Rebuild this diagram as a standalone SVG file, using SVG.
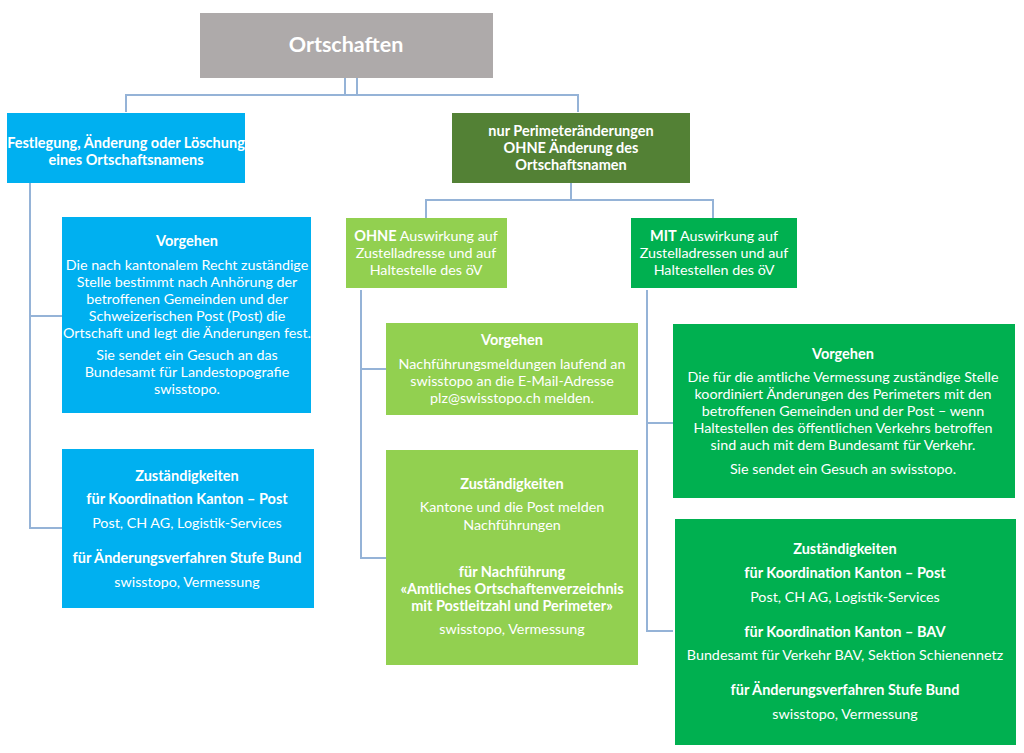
<svg xmlns="http://www.w3.org/2000/svg" width="1024" height="753" viewBox="0 0 1024 753">
<style>
text{font-family:Lato,"Open Sans","Liberation Sans",sans-serif;fill:#fff;text-anchor:middle;font-size:14.3px}
.b{font-weight:bold;font-size:14.5px}
.t{font-size:21.5px;font-weight:bold}
.c{fill:none;stroke:#95B3D7;stroke-width:2}
</style>
<rect width="1024" height="753" fill="#fff"/>
<g id="connectors">
<path class="c" d="M345 78V95M357 78V95M126 112V95H578V112"/>
<path class="c" d="M571 183V200M426 218V200H713V218"/>
<path class="c" d="M30 183V528H62M30 316H62"/>
<path class="c" d="M361 290V558H386M361 369H386"/>
<path class="c" d="M647 290V631H673M647 423H673"/>
</g>
<g id="n-ortschaften">
<rect x="200" y="13" width="293" height="65" fill="#AEAAAA"/>
<text class="t" x="346" y="52">Ortschaften</text>
</g>
<g id="n-festlegung">
<rect x="7" y="113" width="238" height="70" fill="#00B0F0"/>
<text class="b" x="126" y="148">Festlegung, Änderung oder Löschung</text>
<text class="b" x="126" y="165">eines Ortschaftsnamens</text>
</g>
<g id="n-perimeter">
<rect x="452" y="113" width="238" height="70" fill="#538135"/>
<text class="b" x="571" y="136">nur Perimeteränderungen</text>
<text class="b" x="571" y="153">OHNE Änderung des</text>
<text class="b" x="571" y="170">Ortschaftsnamen</text>
</g>
<g id="n-ohne">
<rect x="346" y="218" width="161" height="70" fill="#92D050"/>
<text x="426" y="241"><tspan class="b">OHNE</tspan> Auswirkung auf</text>
<text x="426" y="258">Zustelladresse und auf</text>
<text x="426" y="275">Haltestelle des öV</text>
</g>
<g id="n-mit">
<rect x="631" y="218" width="166" height="70" fill="#00B050"/>
<text x="714" y="241"><tspan class="b">MIT</tspan> Auswirkung auf</text>
<text x="714" y="258">Zustelladressen und auf</text>
<text x="714" y="275">Haltestellen des öV</text>
</g>
<g id="n-vorgehen-blau">
<rect x="62" y="217" width="249" height="196" fill="#00B0F0"/>
<text class="b" x="187" y="246">Vorgehen</text>
<text x="187" y="270">Die nach kantonalem Recht zuständige</text>
<text x="187" y="287">Stelle bestimmt nach Anhörung der</text>
<text x="187" y="304">betroffenen Gemeinden und der</text>
<text x="187" y="321">Schweizerischen Post (Post) die</text>
<text x="187" y="338">Ortschaft und legt die Änderungen fest.</text>
<text x="187" y="360">Sie sendet ein Gesuch an das</text>
<text x="187" y="377">Bundesamt für Landestopografie</text>
<text x="187" y="394">swisstopo.</text>
</g>
<g id="n-zust-blau">
<rect x="62" y="449" width="252" height="159" fill="#00B0F0"/>
<text class="b" x="187" y="481">Zuständigkeiten</text>
<text class="b" x="187" y="504">für Koordination Kanton – Post</text>
<text x="187" y="528">Post, CH AG, Logistik-Services</text>
<text class="b" x="187" y="563">für Änderungsverfahren Stufe Bund</text>
<text x="187" y="587">swisstopo, Vermessung</text>
</g>
<g id="n-vorgehen-hellgruen">
<rect x="386" y="323" width="252" height="92" fill="#92D050"/>
<text class="b" x="512" y="345">Vorgehen</text>
<text x="512" y="369">Nachführungsmeldungen laufend an</text>
<text x="512" y="386">swisstopo an die E-Mail-Adresse</text>
<text x="512" y="403">plz@swisstopo.ch melden.</text>
</g>
<g id="n-zust-hellgruen">
<rect x="386" y="450" width="252" height="215" fill="#92D050"/>
<text class="b" x="512" y="489">Zuständigkeiten</text>
<text x="512" y="512">Kantone und die Post melden</text>
<text x="512" y="530">Nachführungen</text>
<text class="b" x="512" y="577">für Nachführung</text>
<text class="b" x="512" y="594">«Amtliches Ortschaftenverzeichnis</text>
<text class="b" x="512" y="611">mit Postleitzahl und Perimeter»</text>
<text x="512" y="634">swisstopo, Vermessung</text>
</g>
<g id="n-vorgehen-gruen">
<rect x="673" y="324" width="342" height="174" fill="#00B050"/>
<text class="b" x="843" y="359">Vorgehen</text>
<text x="843" y="382">Die für die amtliche Vermessung zuständige Stelle</text>
<text x="843" y="399">koordiniert Änderungen des Perimeters mit den</text>
<text x="843" y="416">betroffenen Gemeinden und der Post – wenn</text>
<text x="843" y="433">Haltestellen des öffentlichen Verkehrs betroffen</text>
<text x="843" y="450">sind auch mit dem Bundesamt für Verkehr.</text>
<text x="843" y="474">Sie sendet ein Gesuch an swisstopo.</text>
</g>
<g id="n-zust-gruen">
<rect x="675" y="519" width="341" height="226" fill="#00B050"/>
<text class="b" x="845" y="554">Zuständigkeiten</text>
<text class="b" x="845" y="578">für Koordination Kanton – Post</text>
<text x="845" y="602">Post, CH AG, Logistik-Services</text>
<text class="b" x="845" y="637">für Koordination Kanton – BAV</text>
<text x="845" y="660">Bundesamt für Verkehr BAV, Sektion Schienennetz</text>
<text class="b" x="845" y="695">für Änderungsverfahren Stufe Bund</text>
<text x="845" y="719">swisstopo, Vermessung</text>
</g>
</svg>
